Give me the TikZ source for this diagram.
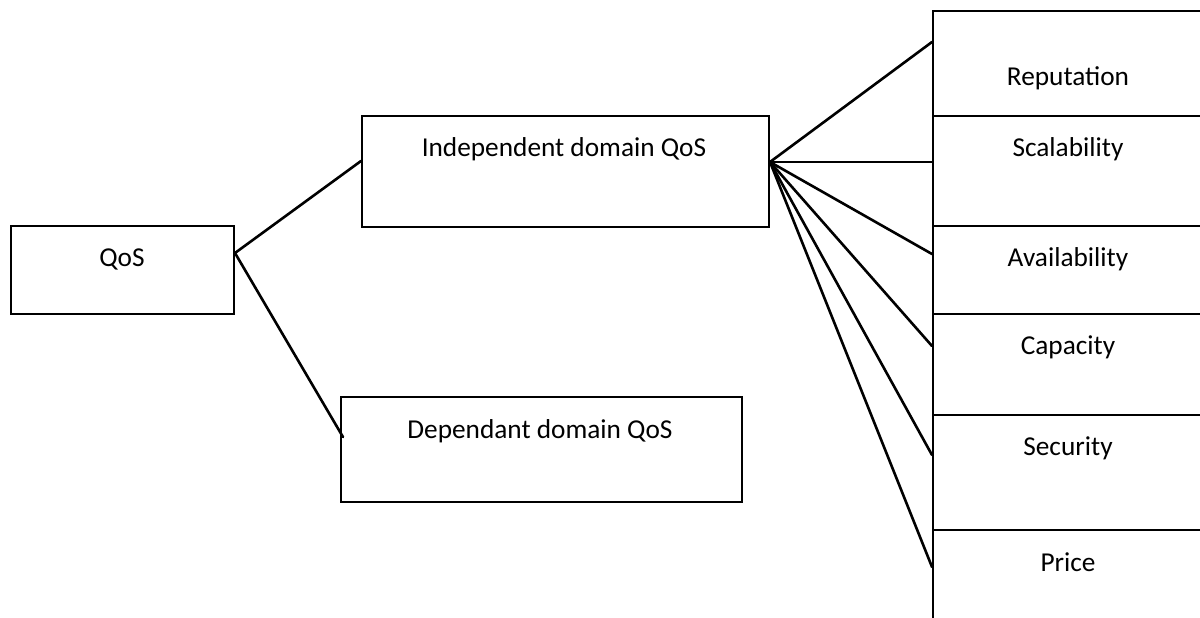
\documentclass[tikz,border=0pt]{standalone}
\usepackage{fontspec}
\setmainfont{Carlito}
\usetikzlibrary{calc}
\begin{document}
\begin{tikzpicture}[x=1pt,y=-1pt,
  box/.style={draw=black,line width=2pt,rectangle,inner sep=0pt,anchor=north west},
  lbl/.style={inner sep=0pt,anchor=center,font=\fontsize{27.3}{32}\selectfont},
  conn/.style={draw=black,line width=2.6pt,line cap=round}]
\useasboundingbox (0,0) rectangle (1200,618);
\clip (0,0) rectangle (1200,618);
% left boxes
\node[box,minimum width=223pt,minimum height=88pt] (qos) at (10,225) {};
\node[box,minimum width=407pt,minimum height=111pt] (ind) at (361,115) {};
\node[box,minimum width=401pt,minimum height=105pt] (dep) at (340,396) {};
\node[lbl] (qost) at (122,259) {QoS};
\node[lbl] (indt) at (564,149) {Independent domain QoS};
\node[lbl] (dept) at (540,431) {Dependant domain QoS};
% right column
\node[box,minimum width=340pt,minimum height=105pt] (rep) at (932,10) {};
\node[box,minimum width=340pt,minimum height=110pt] (sca) at (932,115) {};
\node[box,minimum width=340pt,minimum height=88pt] (ava) at (932,225) {};
\node[box,minimum width=340pt,minimum height=101pt] (cap) at (932,313) {};
\node[box,minimum width=340pt,minimum height=115pt] (sec) at (932,414) {};
\node[box,minimum width=340pt,minimum height=130pt] (pri) at (932,529) {};
\node[lbl] (rept) at (1068,78) {Reputation};
\node[lbl] (scat) at (1068,149) {Scalability};
\node[lbl] (avat) at (1068,259) {Availability};
\node[lbl] (capt) at (1068,347) {Capacity};
\node[lbl] (sect) at (1068,448) {Security};
\node[lbl] (prit) at (1068,562) {Price};
% connectors
\coordinate (qosout) at ($(qos.north east)+(0,28)$);
\coordinate (indin) at ($(ind.north west)+(0,46)$);
\coordinate (depin) at ($(dep.north west)+(3,41)$);
\coordinate (indout) at ($(ind.north east)+(0,47)$);
\draw[conn] (qosout) -- (indin);
\draw[conn] (qosout) -- (depin);
\draw[conn] (indout) -- ($(rep.north west)+(0,32)$);
\draw[conn] (indout) -- ($(sca.north west)+(0,47)$);
\draw[conn] (indout) -- ($(ava.north west)+(0,29)$);
\draw[conn] (indout) -- ($(cap.north west)+(0,33)$);
\draw[conn] (indout) -- ($(sec.north west)+(0,41)$);
\draw[conn] (indout) -- ($(pri.north west)+(0,38)$);
\end{tikzpicture}
\end{document}
